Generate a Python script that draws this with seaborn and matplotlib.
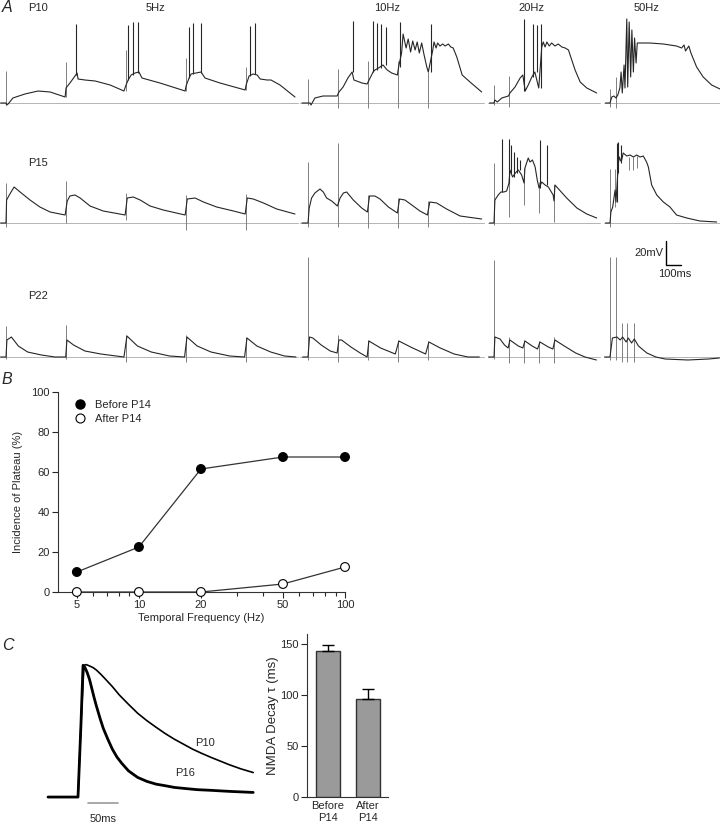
import numpy as np
import pandas as pd
import matplotlib
matplotlib.use("Agg")
import matplotlib.pyplot as plt
import seaborn as sns
from matplotlib.lines import Line2D
from matplotlib.ticker import FixedLocator, NullFormatter

sns.set_style("white")
plt.rcParams["font.family"] = ["Liberation Sans", "DejaVu Sans"]

# ---------------- Panel A data (time in ms, membrane potential in mV above rest) ----
# P10
P10_5_T = [-18, 0, 2, 7, 23, 63, 107, 147, 197, 200, 213, 230, 237, 240, 263, 297, 347, 393, 400, 407, 417, 430, 443, 453,
           513, 597, 600, 610, 617, 633, 650, 663, 713, 797, 800, 810, 823, 837, 847, 870, 883, 913, 963]
P10_5_V = [0, 0, -2, -1, 5, 9, 12, 11, 6, 15, 20, 27, 30, 24, 23, 22, 18, 12, 18, 23, 28, 30, 31, 25,
           20, 12, 17, 25, 29, 30, 31, 25, 20, 13, 18, 27, 29, 28, 24, 23, 23, 18, 6]
P10_5_STIM = ([0, 200, 400, 600, 800], [-2, 6, 12, 12, 13], [32, 41, 53, 45, 36])
P10_5_SPK = ([233, 408, 424, 441, 611, 624, 649, 813, 830],
             [28, 23, 28, 30, 25, 29, 30, 27, 29],
             [79, 78, 81, 81, 76, 80, 80, 77, 80])

P10_10_T = [-20, 0, 7, 10, 23, 50, 97, 103, 117, 133, 147, 153, 180, 197, 207, 217, 223, 235, 250, 264, 279, 298,
            302, 312, 317, 327, 334, 342, 349, 357, 364, 371, 379, 387, 396, 401, 416, 420, 427, 432, 440, 449,
            457, 468, 476, 484, 496, 514, 540, 579]
P10_10_V = [0, 0, 0, -2, 5, 7, 7, 11, 16, 25, 31, 23, 20, 19, 25, 31, 33, 35, 38, 33, 30, 28,
            36, 50, 69, 55, 64, 51, 62, 53, 61, 50, 60, 48, 36, 31, 53, 61, 55, 60, 57, 59,
            57, 59, 56, 55, 46, 28, 21, 11]
P10_10_STIM = ([0, 100, 200, 300, 400], [-2, -5, -5, -5, -5], [24, 34, 42, 42, 31])
P10_10_SPK = ([149, 218, 229, 243, 260, 308, 409],
              [31, 31, 33, 35, 38, 36, 31],
              [82, 82, 80, 79, 76, 81, 79])

P10_20_T = [-15, 0, 3, 11, 26, 48, 53, 70, 87, 96, 104, 114, 126, 136, 149, 159, 164, 170, 176, 184, 192, 203,
            214, 226, 237, 248, 259, 270, 287, 309, 342]
P10_20_V = [0, 0, 3, 1, 5, 7, 10, 16, 25, 28, 12, 18, 26, 31, 15, 56, 61, 56, 61, 57, 60, 57,
            59, 56, 55, 53, 43, 33, 21, 15, 10]
P10_20_STIM = ([0, 50], [-2, -4], [18, 27])
P10_20_SPK = ([100, 129, 142, 156], [12, 26, 31, 15], [84, 79, 78, 79])

P10_50_T = [-15, 0, 6, 13, 20, 26, 33, 37, 41, 47, 50, 56, 59, 64, 69, 73, 78, 82, 87, 91, 100,
            133, 178, 222, 239, 247, 252, 263, 270, 289, 311, 339, 367]
P10_50_V = [0, 0, 6, 7, 5, 8, 15, 31, 10, 38, 15, 84, 16, 81, 26, 73, 31, 65, 40, 60, 60,
            60, 59, 57, 55, 58, 52, 57, 50, 36, 26, 18, 14]
P10_50_STIM = ([0, 20], [-4, -5], [14, 26])
P10_50_SPK = ([], [], [])

# P15
P15_5_T = [-18, 0, 2, 11, 27, 47, 80, 113, 147, 197, 204, 213, 230, 247, 280, 324, 397, 404, 424, 447, 480, 524,
           597, 604, 630, 658, 702, 758, 797, 804, 824, 858, 902, 963]
P15_5_V = [0, 0, 23, 28, 36, 31, 23, 16, 11, 8, 22, 27, 28, 25, 17, 12, 8, 25, 26, 23, 17, 13,
           8, 24, 25, 21, 16, 12, 9, 25, 24, 20, 14, 9]
P15_5_STIM = ([0, 200, 400, 600, 800], [-4, 0, 3, -7, -7], [40, 42, 30, 28, 29])
P15_5_SPK = ([], [], [])

P15_10_T = [-20, 0, 4, 12, 23, 40, 51, 62, 79, 98, 107, 118, 129, 151, 179, 198, 205, 223, 240, 268, 298,
            305, 323, 346, 373, 398, 406, 429, 462, 507, 579]
P15_10_V = [0, 0, 15, 25, 30, 34, 31, 25, 22, 17, 25, 30, 31, 23, 15, 11, 27, 27, 24, 16, 10,
            24, 23, 18, 12, 8, 21, 20, 14, 7, 4]
P15_10_STIM = ([0, 100, 200, 300, 400], [-4, -4, -5, -5, -4], [61, 80, 28, 25, 22])
P15_10_SPK = ([], [], [])

P15_20_T = [-15, 0, 3, 14, 23, 33, 42, 50, 53, 62, 71, 81, 92, 100, 103, 114, 120, 128, 137, 144, 150,
            159, 170, 181, 197, 200, 203, 218, 242, 276, 309, 342]
P15_20_V = [0, 0, 23, 28, 31, 31, 32, 40, 53, 46, 50, 53, 48, 40, 55, 65, 61, 63, 56, 43, 35,
            41, 38, 36, 28, 22, 38, 33, 25, 15, 9, 5]
P15_20_STIM = ([0, 50, 100, 150, 200], [-2, 6, 18, 10, 1], [60, 53, 55, 41, 38])
P15_20_SPK = ([28, 50, 58, 67, 76, 87, 153, 176],
              [31, 40, 50, 46, 50, 53, 35, 38],
              [84, 84, 78, 71, 66, 63, 83, 78])

P15_50_T = [-15, 0, 3, 9, 17, 20, 28, 31, 36, 39, 44, 56, 67, 78, 89, 100, 111, 122, 128, 139, 156, 178,
            200, 222, 256, 300, 356]
P15_50_V = [0, 0, 11, 16, 33, 21, 60, 66, 62, 63, 70, 67, 68, 66, 68, 66, 67, 61, 56, 38, 28, 21,
            16, 8, 5, 2, 1]
P15_50_STIM = ([0, 17, 64, 78, 91], [-4, 16, 53, 53, 55], [54, 54, 66, 66, 67])
P15_50_SPK = ([24, 28, 36], [21, 50, 60], [80, 81, 78])

# P22
P22_5_T = [-18, 0, 3, 18, 41, 72, 118, 163, 199, 203, 225, 263, 316, 393, 403, 438, 484, 545, 595,
           603, 637, 683, 745, 795, 803, 836, 882, 928, 966]
P22_5_V = [0, 0, 17, 20, 11, 5, 2, 0, 0, 17, 12, 6, 3, 0, 21, 11, 5, 1, 0,
           20, 11, 5, 1, 0, 19, 11, 5, 1, 0]
P22_5_STIM = ([0, 200, 400, 600, 800], [-2, -2, -5, -5, -5], [31, 32, 22, 22, 20])
P22_5_SPK = ([], [], [])

P22_10_T = [-18, 0, 5, 16, 44, 74, 97, 103, 112, 143, 174, 197, 203, 242, 291, 303, 342, 392, 403, 441, 487, 533, 571]
P22_10_V = [0, 0, 20, 19, 12, 6, 4, 17, 17, 10, 4, 0, 16, 9, 3, 16, 10, 3, 15, 9, 3, 0, 0]
P22_10_STIM = ([0, 100, 200, 300, 400], [-3, -5, -3, -5, -3], [100, 22, 17, 17, 16])
P22_10_SPK = ([], [], [])

P22_20_T = [-18, 0, 3, 20, 35, 47, 53, 81, 96, 103, 127, 145, 153, 181, 196, 203, 234, 272, 303, 341]
P22_20_V = [0, 0, 20, 18, 12, 9, 17, 11, 9, 16, 11, 8, 15, 10, 8, 17, 11, 4, 0, -3]
P22_20_STIM = ([0, 50, 100, 150, 200], [-2, -6, -6, -6, -6], [97, 20, 17, 16, 20])
P22_20_SPK = ([], [], [])

P22_50_T = [-18, 0, 8, 23, 34, 42, 54, 61, 72, 81, 95, 123, 153, 184, 260, 329, 365]
P22_50_V = [0, 0, 19, 20, 17, 20, 15, 19, 14, 18, 11, 4, 0, -2, -3, -2, -1]
P22_50_STIM = ([0, 20, 39, 57, 80], [-3, -3, -5, -5, -5], [100, 100, 34, 34, 34])
P22_50_SPK = ([], [], [])

AGES = ["P10", "P15", "P22"]
FREQ_LABELS = ["5Hz", "10Hz", "20Hz", "50Hz"]

# ---------------- Panel B data ----------------
FREQ_HZ = [5, 10, 20, 50, 100]
BEFORE_P14 = [10, 22.5, 61.5, 67.5, 67.5]
AFTER_P14 = [0, 0, 0, 4, 12.5]

# ---------------- Panel C data (time in ms, normalised amplitude) ----------------
C_P10_T = [-50, 0, 5, 9.9, 13.7, 19.1, 25.2, 30.6, 38.2, 45.9, 57.3, 68.8, 84.1, 99.4, 114.7, 130, 145.3,
           160.6, 175.9, 191.2, 206.4, 221.7, 237, 252.3, 271.4, 292]
C_P10_V = [0, 0, 0.56, 1.0, 1.005, 0.995, 0.982, 0.964, 0.931, 0.894, 0.838, 0.775, 0.704, 0.636, 0.58,
           0.53, 0.482, 0.439, 0.401, 0.363, 0.331, 0.301, 0.273, 0.245, 0.214, 0.186]
C_P16_T = [-50, 0, 5, 8.4, 11.4, 15.3, 19.1, 22.9, 26.7, 30.6, 36.7, 42, 49.7, 57.3, 65, 72.6, 84.1, 99.4,
           114.7, 130, 145.3, 160.6, 175.9, 198.8, 221.7, 252.3, 292]
C_P16_V = [0, 0, 0.56, 1.0, 0.985, 0.945, 0.894, 0.826, 0.757, 0.692, 0.598, 0.523, 0.439, 0.363, 0.303,
           0.258, 0.199, 0.149, 0.119, 0.098, 0.086, 0.073, 0.066, 0.056, 0.051, 0.043, 0.035]
TAU_GROUPS = ["Before\nP14", "After\nP14"]
TAU_MEAN = [143, 96]
TAU_SEM = [6, 10]

# ---------------- figure ----------------
W, H = 720, 826
fig = plt.figure(figsize=(W / 100, H / 100), dpi=100)


def px_axes(l, t, r, b):
    return fig.add_axes([l / W, 1 - b / H, (r - l) / W, (b - t) / H])


def ftext(x, y, s, **kw):
    kw.setdefault("va", "center")
    fig.text(x / W, 1 - y / H, s, **kw)


TRACE_COLOR = "#262626"
STIM_COLOR = "#808080"
BASE_COLOR = "#b4b4b4"

COL_PX = [(0, 298), (300, 484), (488, 600), (604, 720)]
COL_XLIM = [(-20, 973), (-26.7, 586.7), (-20, 353), (-20, 367)]
ROW_BASE = [103, 223, 357]
YLO, YHI = -12, 95

TRACES = [
    [(P10_5_T, P10_5_V, P10_5_STIM, P10_5_SPK), (P10_10_T, P10_10_V, P10_10_STIM, P10_10_SPK),
     (P10_20_T, P10_20_V, P10_20_STIM, P10_20_SPK), (P10_50_T, P10_50_V, P10_50_STIM, P10_50_SPK)],
    [(P15_5_T, P15_5_V, P15_5_STIM, P15_5_SPK), (P15_10_T, P15_10_V, P15_10_STIM, P15_10_SPK),
     (P15_20_T, P15_20_V, P15_20_STIM, P15_20_SPK), (P15_50_T, P15_50_V, P15_50_STIM, P15_50_SPK)],
    [(P22_5_T, P22_5_V, P22_5_STIM, P22_5_SPK), (P22_10_T, P22_10_V, P22_10_STIM, P22_10_SPK),
     (P22_20_T, P22_20_V, P22_20_STIM, P22_20_SPK), (P22_50_T, P22_50_V, P22_50_STIM, P22_50_SPK)],
]

for r, base in enumerate(ROW_BASE):
    for c, (l, rr) in enumerate(COL_PX):
        ax = px_axes(l, base - YHI, rr, base - YLO)
        t, v, stim, spk = TRACES[r][c]
        ax.axhline(0, color=BASE_COLOR, lw=0.7, zorder=1)
        ax.vlines(stim[0], stim[1], stim[2], color=STIM_COLOR, lw=0.7, zorder=2, clip_on=False)
        sns.lineplot(x=t, y=v, ax=ax, color=TRACE_COLOR, lw=0.8, estimator=None, sort=False,
                     legend=False, zorder=3)
        for ln in ax.lines:
            ln.set_clip_on(False)
        if len(spk[0]):
            ax.vlines(spk[0], spk[1], spk[2], color=TRACE_COLOR, lw=0.8, zorder=3, clip_on=False)
        ax.set_xlim(*COL_XLIM[c])
        ax.set_ylim(YLO, YHI)
        ax.axis("off")

ftext(2, 8, "A", fontsize=11.5, style="italic", ha="left")
ftext(28, 8, AGES[0], fontsize=8, ha="left")
ftext(28, 163, AGES[1], fontsize=8, ha="left")
ftext(28, 296, AGES[2], fontsize=8, ha="left")
for x, s in zip([155, 387, 531, 647], FREQ_LABELS):
    ftext(x, 8, s, fontsize=8, ha="center")

# scale bar (20 mV / 100 ms)
fig.add_artist(Line2D([666 / W, 666 / W, 681 / W], [1 - 241 / H, 1 - 265 / H, 1 - 265 / H],
                      color="black", lw=1.0, transform=fig.transFigure))
ftext(663, 253, "20mV", fontsize=8, ha="right")
ftext(675, 274, "100ms", fontsize=8, ha="center")

# ---------------- Panel B ----------------
axB = px_axes(58, 392, 345, 592)
dfB = pd.DataFrame({
    "freq": FREQ_HZ * 2,
    "pct": BEFORE_P14 + AFTER_P14,
    "group": ["Before P14"] * len(FREQ_HZ) + ["After P14"] * len(FREQ_HZ),
})
sns.lineplot(data=dfB, x="freq", y="pct", units="group", estimator=None, color="#333333", lw=0.9,
             ax=axB, legend=False)
sns.scatterplot(data=dfB, x="freq", y="pct", hue="group",
                palette={"Before P14": "black", "After P14": "white"},
                edgecolor="black", linewidth=0.8, s=40, ax=axB, legend=False, zorder=5, clip_on=False)
axB.set_xscale("log")
axB.set_xlim(4.05, 100)
axB.set_ylim(0, 100)
axB.set_xticks(FREQ_HZ)
axB.set_xticklabels([str(f) for f in FREQ_HZ])
axB.xaxis.set_minor_locator(FixedLocator([6, 7, 8, 9, 30, 40, 60, 70, 80, 90]))
axB.xaxis.set_minor_formatter(NullFormatter())
axB.set_yticks([0, 20, 40, 60, 80, 100])
axB.tick_params(axis="both", which="major", direction="out", length=4, width=0.8, labelsize=8, pad=2,
                bottom=True, left=True)
axB.tick_params(axis="x", which="minor", direction="out", length=3, width=0.8, bottom=True)
for s in ["top", "right"]:
    axB.spines[s].set_visible(False)
for s in ["left", "bottom"]:
    axB.spines[s].set_linewidth(0.8)
    axB.spines[s].set_color("#333333")
axB.set_xlabel("Temporal Frequency (Hz)", fontsize=8, labelpad=2)
axB.set_ylabel("Incidence of Plateau (%)", fontsize=8, labelpad=6)
handles = [Line2D([], [], ls="none", marker="o", ms=6.5, mfc="black", mec="black"),
           Line2D([], [], ls="none", marker="o", ms=6.5, mfc="white", mec="black", mew=0.8)]
axB.legend(handles, ["Before P14", "After P14"], loc="upper left",
           bbox_to_anchor=(74 / W, 1 - 400 / H), bbox_transform=fig.transFigure, frameon=False,
           fontsize=8, handlelength=1.0, handletextpad=0.9, labelspacing=0.35, borderaxespad=0,
           borderpad=0)
ftext(2, 380, "B", fontsize=11.5, style="italic", ha="left")

# ---------------- Panel C traces ----------------
axC = px_axes(45, 660, 258, 801)
sns.lineplot(x=C_P10_T, y=C_P10_V, ax=axC, color="black", lw=1.2, estimator=None, sort=False)
sns.lineplot(x=C_P16_T, y=C_P16_V, ax=axC, color="black", lw=2.0, estimator=None, sort=False)
axC.set_xlim(-55, 300)
axC.set_ylim(-0.03, 1.04)
axC.axis("off")
axC.text(212, 0.41, "P10", fontsize=8, ha="center", va="center")
axC.text(179, 0.18, "P16", fontsize=8, ha="center", va="center")
SCALE_MS = 50
axC.plot([17, 17 + SCALE_MS], [-0.045, -0.045], color="#999999", lw=1.2, clip_on=False)
axC.text(17 + SCALE_MS / 2, -0.17, "50ms", fontsize=8, ha="center", va="center")
ftext(2, 645, "C", fontsize=11.5, style="italic", ha="left")

# ---------------- Panel C bars ----------------
axD = px_axes(307, 634, 388, 797)
sns.barplot(x=TAU_GROUPS, y=TAU_MEAN, color="#9a9a9a", edgecolor="#333333", linewidth=1.0,
            width=0.6, ax=axD, saturation=1)
axD.errorbar(x=[0, 1], y=TAU_MEAN, yerr=[[0, 0], TAU_SEM], fmt="none", ecolor="black",
             elinewidth=1.0, capsize=4, capthick=1.0)
axD.set_xlim(-0.525, 1.5)
axD.set_ylim(0, 160)
axD.set_yticks([0, 50, 100, 150])
axD.tick_params(axis="y", direction="out", length=4, width=0.8, labelsize=8, pad=2, left=True)
axD.tick_params(axis="x", length=0, labelsize=8, pad=3)
for s in ["top", "right"]:
    axD.spines[s].set_visible(False)
for s in ["left", "bottom"]:
    axD.spines[s].set_linewidth(0.8)
    axD.spines[s].set_color("#333333")
axD.set_ylabel("NMDA Decay \u03c4 (ms)", fontsize=9.5, labelpad=1)
axD.set_xlabel("")

fig.savefig("out.png", dpi=100)
